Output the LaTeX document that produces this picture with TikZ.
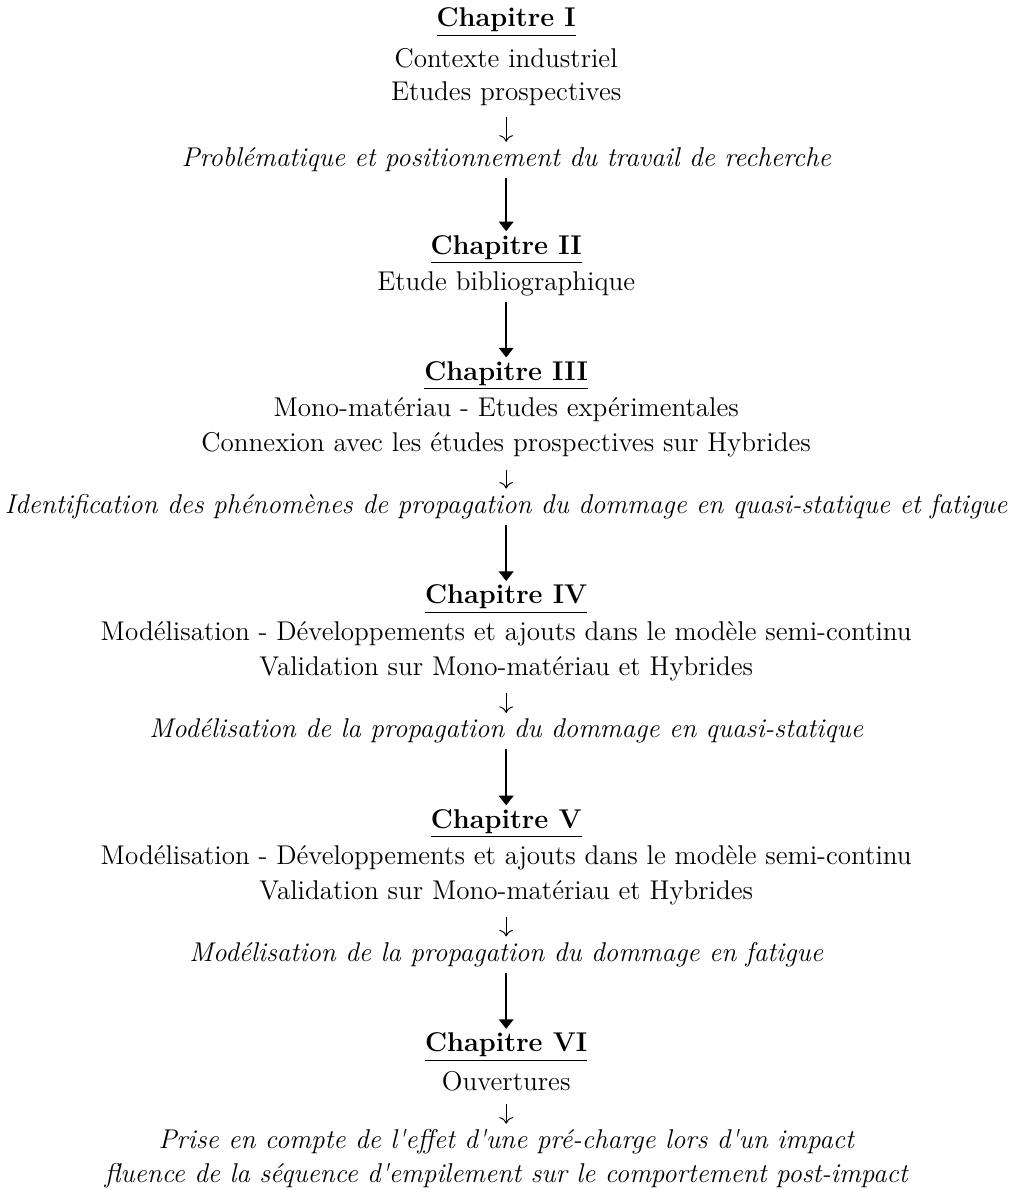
\documentclass[tikz,border=0pt,12pt]{standalone}
\usetikzlibrary{arrows.meta}

\begin{document}
\begin{tikzpicture}[
  chap/.style={inner sep=0pt, font=\fontsize{11.25}{13.6}\selectfont\bfseries},
  txt/.style={inner sep=0pt, font=\fontsize{11.25}{13.6}\selectfont},
  res/.style={inner sep=0pt, font=\fontsize{11.25}{13.6}\selectfont\itshape},
  big/.style={line width=1pt, -{Triangle[width=6pt,length=4pt]}, shorten <=0.08cm, shorten >=0.05cm},
  small/.style={-{Computer Modern Rightarrow[scale=1.1]}, shorten <=0.17cm, shorten >=0.08cm}]

    \useasboundingbox (0,0) rectangle (14.77,-17.35);

    \node[chap] at (7.38,-0.32) (c1) {\underline{Chapitre I}};
    \node[txt] at (7.38,-0.85) (t1a) {Contexte industriel};
    \node[txt] at (7.38,-1.36) (t1b) {Etudes prospectives};
    \node[res] at (7.38,-2.33) (r1) {Problématique et positionnement du travail de recherche};

    \node[chap] at (7.38,-3.64) (c2) {\underline{Chapitre II}};
    \node[txt] at (7.38,-4.14) (t2a) {Etude bibliographique};

    \node[chap] at (7.38,-5.48) (c3) {\underline{Chapitre III}};
    \node[txt] at (7.38,-5.98) (t3a) {Mono-matériau - Etudes expérimentales};
    \node[txt] at (7.38,-6.49) (t3b) {Connexion avec les études prospectives sur Hybrides};
    \node[res] at (7.38,-7.39) (r3) {Identification des phénomènes de propagation du dommage en quasi-statique et fatigue};

    \node[chap] at (7.38,-8.74) (c4) {\underline{Chapitre IV}};
    \node[txt] at (7.38,-9.24) (t4a) {Modélisation - Développements et ajouts dans le modèle semi-continu};
    \node[txt] at (7.38,-9.75) (t4b) {Validation sur Mono-matériau et Hybrides};
    \node[res] at (7.38,-10.66) (r4) {Modélisation de la propagation du dommage en quasi-statique};

    \node[chap] at (7.38,-12.01) (c5) {\underline{Chapitre V}};
    \node[txt] at (7.38,-12.51) (t5a) {Modélisation - Développements et ajouts dans le modèle semi-continu};
    \node[txt] at (7.38,-13.02) (t5b) {Validation sur Mono-matériau et Hybrides};
    \node[res] at (7.38,-13.92) (r5) {Modélisation de la propagation du dommage en fatigue};

    \node[chap] at (7.38,-15.27) (c6) {\underline{Chapitre VI}};
    \node[txt] at (7.38,-15.77) (t6a) {Ouvertures};
    \node[res] at (7.38,-16.65) (r6a) {Prise en compte de l\textquotesingle effet d\textquotesingle une pré-charge lors d\textquotesingle un impact};
    \node[res] at (7.38,-17.14) (r6b) {fluence de la séquence d\textquotesingle empilement sur le comportement post-impact};

    \draw[small] (t1b) -- (r1);
    \draw[small] (t3b) -- (r3);
    \draw[small] (t4b) -- (r4);
    \draw[small] (t5b) -- (r5);
    \draw[small] (t6a) -- (r6a);

    \draw[big] (r1) -- (c2);
    \draw[big] (t2a) -- (c3);
    \draw[big] (r3) -- (c4);
    \draw[big] (r4) -- (c5);
    \draw[big] (r5) -- (c6);

\end{tikzpicture}
\end{document}
